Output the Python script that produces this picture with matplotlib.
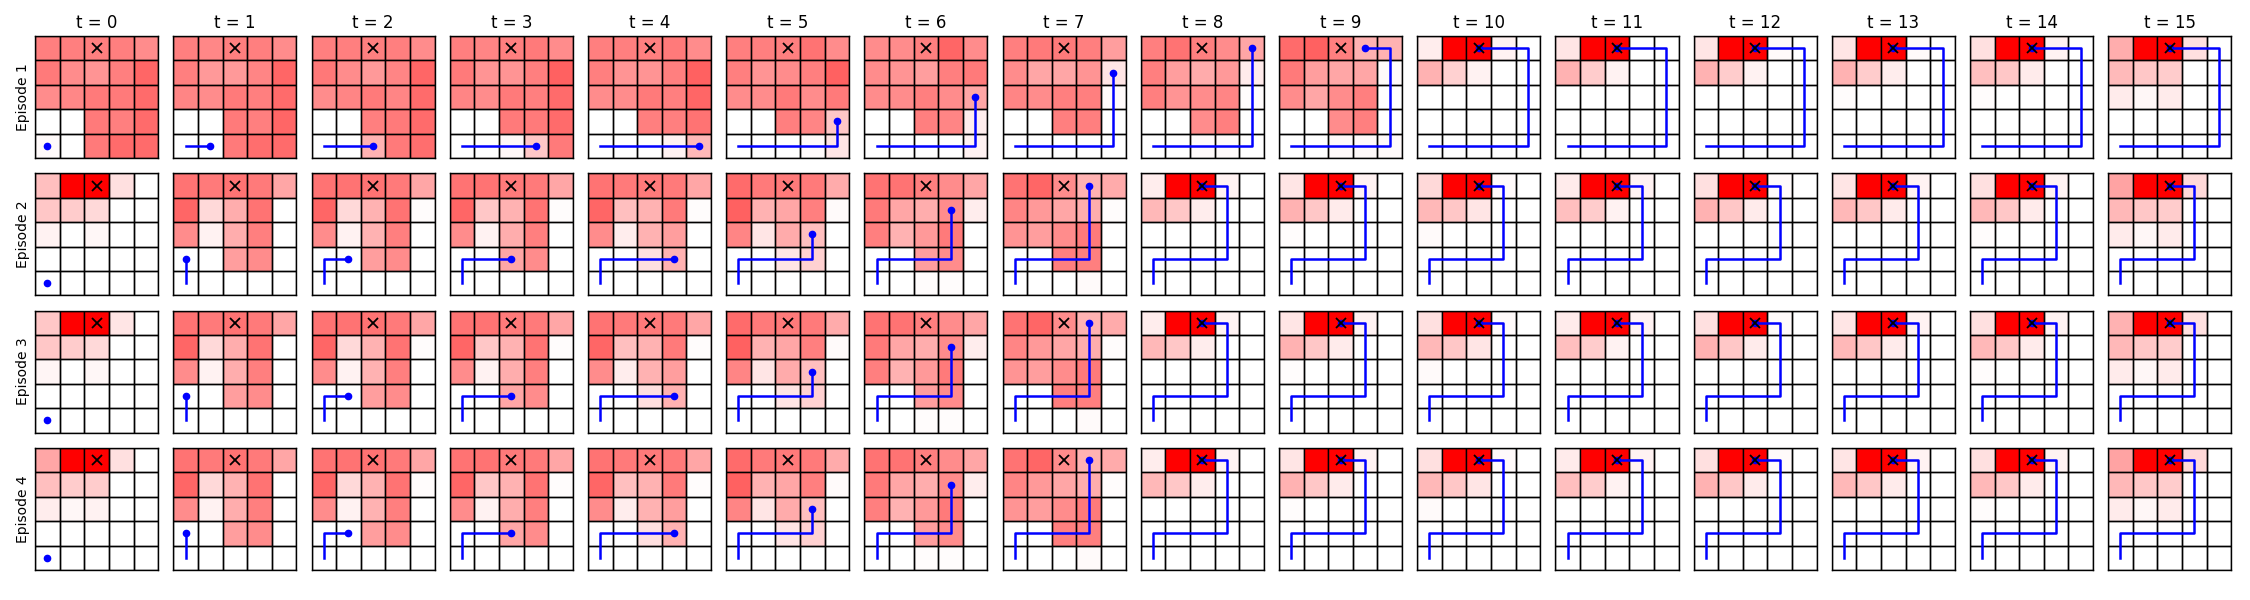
import matplotlib
matplotlib.use("Agg")
import matplotlib.pyplot as plt
from matplotlib.patches import Rectangle

timesteps = list(range(16))
episode_labels = ["Episode 1", "Episode 2", "Episode 3", "Episode 4"]
goal_cell = (0, 2)  # (row, col)

# agent trajectories (row, col); agent stays at the goal after reaching it
path_ep1 = [(4, 0), (4, 1), (4, 2), (4, 3), (4, 4), (3, 4), (2, 4), (1, 4), (0, 4), (0, 3), (0, 2)]
path_ep2 = [(4, 0), (3, 0), (3, 1), (3, 2), (3, 3), (2, 3), (1, 3), (0, 3), (0, 2)]
path_ep3 = [(4, 0), (3, 0), (3, 1), (3, 2), (3, 3), (2, 3), (1, 3), (0, 3), (0, 2)]
path_ep4 = [(4, 0), (3, 0), (3, 1), (3, 2), (3, 3), (2, 3), (1, 3), (0, 3), (0, 2)]

Z = [0, 0, 0, 0, 0]

# belief maps: one list of 25 values (5 rows x 5 cols, top row first) per time step
belief_ep1 = [
    [.50, .50, .50, .50, .45, .52, .45, .42, .50, .60, .45, .47, .52, .52, .58, 0, 0, .52, .50, .58, .02, 0, .52, .58, .58],
    [.50, .47, .50, .50, .45, .50, .40, .40, .48, .60, .48, .45, .52, .50, .58, 0, 0, .52, .50, .60, 0, 0, .52, .57, .58],
    [.50, .50, .50, .50, .45, .53, .45, .40, .48, .60, .45, .48, .52, .48, .58, 0, 0, .50, .52, .58, 0, 0, .30, .52, .57],
    [.50, .48, .50, .52, .45, .52, .42, .42, .50, .62, .48, .45, .52, .50, .58, 0, 0, .52, .52, .58, 0, 0, .03, .22, .52],
    [.50, .50, .50, .52, .45, .50, .42, .42, .50, .62, .45, .45, .52, .50, .60, 0, 0, .50, .50, .55, 0, 0, 0, .05, .28],
    [.50, .50, .50, .55, .45, .50, .42, .45, .50, .62, .45, .45, .52, .45, .52, 0, 0, .50, .48, .22, 0, 0, 0, .02, .10],
    [.45, .45, .50, .60, .45, .45, .42, .38, .50, .52, .45, .45, .50, .45, .35, 0, 0, .50, .48, .07, 0, 0, 0, 0, .05],
    [.50, .52, .52, .50, .38, .45, .35, .35, .42, .10, .48, .45, .50, .50, .02, 0, 0, .50, .50, 0, 0, 0, 0, 0, 0],
    [.50, .55, .50, .45, .35, .50, .38, .33, .40, .08, .50, .42, .45, .48, .01, 0, 0, .45, .50, 0, 0, 0, .02, .02, 0],
    [.58, .62, .50, .30, .30, .52, .38, .35, .35, .02, .45, .35, .45, .50, 0, 0, 0, .45, .50, 0, 0, 0, .02, .02, .02],
    [.07, 1, 1, .05, 0, .30, .18, .05, 0, 0] + Z + Z + Z,
    [.10, 1, 1, 0, 0, .30, .20, .05, 0, 0] + Z + Z + Z,
    [.10, 1, 1, .02, 0, .30, .20, .05, 0, 0] + Z + Z + Z,
    [.10, 1, 1, .02, 0, .30, .20, .07, 0, 0, .01, 0, 0, 0, 0] + Z + Z,
    [.12, 1, 1, .05, 0, .25, .22, .08, 0, 0, .01, 0, 0, 0, 0] + Z + Z,
    [.32, 1, 1, .12, 0, .27, .22, .20, 0, 0, .08, .03, .08, 0, 0] + Z + Z,
]

belief_ep2 = [
    [.25, 1, 1, .12, 0, .22, .20, .15, 0, 0, .05, 0, .03, 0, 0] + Z + Z,
    [.55, .52, .55, .52, .35, .60, .15, .32, .55, 0, .45, .05, .32, .50, 0, 0, 0, .38, .45, 0] + Z,
    [.55, .55, .55, .52, .35, .60, .15, .30, .55, .01, .45, .05, .30, .50, 0, 0, 0, .38, .45, 0] + Z,
    [.55, .55, .52, .52, .35, .60, .22, .30, .55, .01, .45, .05, .32, .50, 0, 0, 0, .35, .45, 0] + Z,
    [.55, .52, .52, .52, .35, .60, .25, .30, .52, .01, .45, .07, .30, .38, 0, 0, 0, .12, .30, 0] + Z,
    [.58, .52, .52, .52, .33, .62, .30, .35, .50, .02, .48, .10, .33, .25, 0, 0, 0, .10, .18, 0] + Z,
    [.55, .55, .50, .45, .35, .52, .35, .32, .45, .07, .50, .30, .40, .52, 0, 0, 0, .38, .45, 0, 0, 0, .01, .01, 0],
    [.55, .60, .45, .30, .33, .48, .40, .35, .32, .01, .42, .38, .45, .52, 0, 0, 0, .50, .50, 0, 0, 0, 0, .02, 0],
    [.07, 1, 1, .05, 0, .28, .22, .07, 0, 0] + Z + Z + Z,
    [.10, 1, 1, .05, 0, .30, .22, .08, 0, 0, .01, 0, 0, 0, 0] + Z + Z,
    [.15, 1, 1, .02, 0, .28, .22, .10, 0, 0, .02, 0, 0, 0, 0] + Z + Z,
    [.08, 1, 1, .05, 0, .25, .20, .05, 0, 0] + Z + Z + Z,
    [.12, 1, 1, .02, 0, .30, .22, .08, 0, 0] + Z + Z + Z,
    [.10, 1, 1, .05, 0, .28, .22, .08, 0, 0] + Z + Z + Z,
    [.12, 1, 1, .05, 0, .28, .22, .08, 0, 0, .01, 0, 0, 0, 0] + Z + Z,
    [.36, 1, 1, .15, 0, .28, .22, .20, 0, 0, .08, .03, .08, 0, 0] + Z + Z,
]

belief_ep3 = [
    [.22, 1, 1, .10, 0, .22, .20, .15, 0, 0, .04, 0, .03, 0, 0] + Z + Z,
    [.55, .52, .55, .52, .35, .60, .15, .32, .55, 0, .45, .05, .32, .50, 0, 0, 0, .38, .45, 0] + Z,
    [.55, .55, .55, .52, .35, .60, .15, .30, .55, .01, .45, .05, .30, .50, 0, 0, 0, .38, .45, 0] + Z,
    [.55, .55, .52, .52, .35, .60, .22, .30, .55, .01, .45, .05, .32, .50, 0, 0, 0, .35, .45, 0] + Z,
    [.55, .52, .52, .52, .35, .60, .25, .30, .52, .01, .45, .07, .30, .38, 0, 0, 0, .12, .30, 0] + Z,
    [.58, .52, .52, .52, .33, .62, .30, .35, .50, .02, .48, .10, .33, .25, 0, 0, 0, .10, .18, 0] + Z,
    [.55, .55, .50, .45, .35, .52, .35, .32, .45, .07, .50, .30, .40, .52, 0, 0, 0, .38, .45, 0, 0, 0, .01, .01, 0],
    [.55, .60, .45, .30, .33, .48, .40, .35, .32, .01, .42, .38, .45, .52, 0, 0, 0, .50, .50, 0, 0, 0, 0, .02, 0],
    [.07, 1, 1, .05, 0, .28, .22, .07, 0, 0] + Z + Z + Z,
    [.10, 1, 1, .05, 0, .30, .22, .08, 0, 0, .01, 0, 0, 0, 0] + Z + Z,
    [.12, 1, 1, .02, 0, .28, .22, .10, 0, 0, .02, 0, 0, 0, 0] + Z + Z,
    [.08, 1, 1, .05, 0, .25, .20, .05, 0, 0] + Z + Z + Z,
    [.12, 1, 1, .02, 0, .30, .22, .08, 0, 0] + Z + Z + Z,
    [.10, 1, 1, .05, 0, .28, .22, .08, 0, 0] + Z + Z + Z,
    [.12, 1, 1, .05, 0, .28, .22, .08, 0, 0, .01, 0, 0, 0, 0] + Z + Z,
    [.30, 1, 1, .12, 0, .28, .22, .20, 0, 0, .08, .03, .08, 0, 0] + Z + Z,
]

belief_ep4 = [
    [.35, 1, 1, .12, 0, .25, .20, .20, 0, 0, .07, .03, .05, 0, 0] + Z + Z,
    [.55, .52, .55, .52, .35, .60, .15, .30, .55, 0, .45, .05, .32, .50, 0, 0, 0, .38, .45, 0] + Z,
    [.55, .55, .55, .52, .35, .60, .15, .30, .55, .01, .45, .05, .30, .50, 0, 0, 0, .38, .45, 0] + Z,
    [.55, .55, .52, .52, .35, .60, .22, .30, .55, .01, .45, .05, .32, .50, 0, 0, 0, .35, .45, 0] + Z,
    [.55, .52, .52, .52, .35, .60, .25, .30, .52, .01, .45, .07, .30, .38, 0, 0, 0, .12, .30, 0] + Z,
    [.58, .52, .52, .52, .33, .62, .30, .35, .50, .02, .48, .10, .33, .25, 0, 0, 0, .10, .18, 0] + Z,
    [.55, .55, .50, .45, .35, .52, .35, .32, .45, .07, .50, .30, .40, .52, 0, 0, 0, .38, .45, 0, 0, 0, .01, .01, 0],
    [.55, .60, .45, .30, .33, .48, .40, .35, .32, .01, .42, .38, .45, .52, 0, 0, 0, .50, .50, 0, 0, 0, 0, .02, 0],
    [.07, 1, 1, .05, 0, .28, .22, .07, 0, 0] + Z + Z + Z,
    [.10, 1, 1, .05, 0, .30, .22, .08, 0, 0, .01, 0, 0, 0, 0] + Z + Z,
    [.12, 1, 1, .02, 0, .28, .22, .10, 0, 0, .02, 0, 0, 0, 0] + Z + Z,
    [.08, 1, 1, .05, 0, .25, .20, .05, 0, 0] + Z + Z + Z,
    [.12, 1, 1, .02, 0, .30, .22, .08, 0, 0] + Z + Z + Z,
    [.10, 1, 1, .05, 0, .28, .22, .08, 0, 0] + Z + Z + Z,
    [.12, 1, 1, .05, 0, .28, .22, .08, 0, 0, .01, 0, 0, 0, 0] + Z + Z,
    [.36, 1, 1, .15, 0, .28, .22, .20, 0, 0, .08, .03, .08, 0, 0] + Z + Z,
]

beliefs = [belief_ep1, belief_ep2, belief_ep3, belief_ep4]
paths = [path_ep1, path_ep2, path_ep3, path_ep4]

fig, axes = plt.subplots(4, 16, figsize=(22.5, 6), dpi=100)
fig.subplots_adjust(left=0.0156, right=0.9917, top=0.94, bottom=0.05, wspace=0.122, hspace=0.125)

for e in range(4):
    for t in timesteps:
        ax = axes[e, t]
        vals = beliefs[e][t]
        for r in range(5):
            for c in range(5):
                a = max(0.0, min(1.0, vals[r * 5 + c]))
                ax.add_patch(Rectangle((c, r), 1, 1, facecolor=(1, 0, 0, a),
                                       edgecolor='black', linewidth=1.0))
        p = paths[e][:min(t, len(paths[e]) - 1) + 1]
        xs = [c + 0.5 for (r, c) in p]
        ys = [r + 0.5 for (r, c) in p]
        ax.plot(xs, ys, color='blue', linewidth=1.8, zorder=3)
        ax.plot(xs[-1], ys[-1], 'o', color='blue', markersize=4.5, zorder=4)
        ax.plot(goal_cell[1] + 0.5, goal_cell[0] + 0.5, 'x', color='black',
                markersize=7, markeredgewidth=1.3, zorder=5)
        ax.set_xlim(0, 5)
        ax.set_ylim(5, 0)
        ax.set_xticks([])
        ax.set_yticks([])
        for s in ax.spines.values():
            s.set_color('black')
            s.set_linewidth(1.0)
        if e == 0:
            ax.set_title(f"t = {t}", fontsize=12)
        if t == 0:
            ax.set_ylabel(episode_labels[e], fontsize=10)

fig.savefig("out.png", dpi=100)
